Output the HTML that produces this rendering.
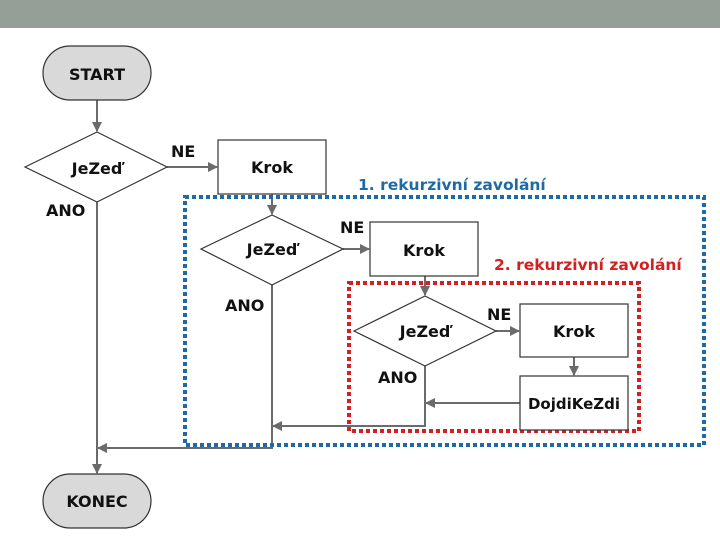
<!DOCTYPE html>
<html><head><meta charset="utf-8"><style>
body{margin:0;width:720px;height:540px;background:#fff;overflow:hidden}
text{font-family:"DejaVu Sans","Liberation Sans",sans-serif;font-weight:bold}
</style></head><body>
<svg width="720" height="540" viewBox="0 0 720 540">
<defs><marker id="a" markerWidth="10" markerHeight="10" refX="9" refY="5" orient="auto" markerUnits="userSpaceOnUse"><path d="M0,0 L10,5 L0,10 z" fill="#6b6b6b"/></marker></defs>
<rect x="0" y="0" width="720" height="28" fill="#939f97"/>
<g stroke="#6b6b6b" stroke-width="2" fill="none">
<line x1="97" y1="100" x2="97" y2="131" marker-end="url(#a)"/>
<line x1="167" y1="167" x2="217" y2="167" marker-end="url(#a)"/>
<line x1="272" y1="194" x2="272" y2="214" marker-end="url(#a)"/>
<line x1="343" y1="249" x2="369" y2="249" marker-end="url(#a)"/>
<line x1="425" y1="276" x2="425" y2="295" marker-end="url(#a)"/>
<line x1="496" y1="331" x2="519" y2="331" marker-end="url(#a)"/>
<line x1="574" y1="357" x2="574" y2="375" marker-end="url(#a)"/>
<line x1="520" y1="403" x2="426" y2="403" marker-end="url(#a)"/>
<polyline points="425,366 425,426 273,426" marker-end="url(#a)"/>
<polyline points="272,285 272,448 98,448" marker-end="url(#a)"/>
<line x1="97" y1="202" x2="97" y2="473" marker-end="url(#a)"/>
</g>
<rect x="185" y="197" width="519" height="248" fill="none" stroke="#1f6aa5" stroke-width="4" stroke-dasharray="4,3"/>
<rect x="349" y="283" width="290" height="148" fill="none" stroke="#d42020" stroke-width="4" stroke-dasharray="4,3"/>
<g stroke="#333" stroke-width="1.2">
<rect x="43" y="46" width="108" height="54" rx="27" fill="#d9d9d9"/>
<rect x="43" y="474" width="108" height="54" rx="27" fill="#d9d9d9"/>
<polygon points="25,167 97,132 167,167 97,202" fill="#fff"/>
<polygon points="201,249 272,215 343,249 272,285" fill="#fff"/>
<polygon points="354,331 425,296 496,331 425,366" fill="#fff"/>
<rect x="218" y="140" width="108" height="54" fill="#fff"/>
<rect x="370" y="222" width="108" height="54" fill="#fff"/>
<rect x="520" y="304" width="108" height="53" fill="#fff"/>
<rect x="520" y="376" width="108" height="54" fill="#fff"/>
</g>
<g font-size="16" text-anchor="middle" fill="#111">
<text x="97" y="80">START</text>
<text x="97" y="507">KONEC</text>
<text x="97" y="174">JeZeď</text>
<text x="272" y="255">JeZeď</text>
<text x="425" y="337">JeZeď</text>
<text x="272" y="173">Krok</text>
<text x="424" y="256">Krok</text>
<text x="574" y="337">Krok</text>
<text x="574" y="409" font-size="15">DojdiKeZdi</text>
</g>
<g font-size="16" fill="#111">
<text x="171" y="157">NE</text>
<text x="340" y="233">NE</text>
<text x="487" y="320">NE</text>
<text x="46" y="216">ANO</text>
<text x="225" y="311">ANO</text>
<text x="378" y="383">ANO</text>
</g>
<text x="358" y="190" font-size="15.5" fill="#1f6aa5">1. rekurzivní zavolání</text>
<text x="494" y="270" font-size="15.5" fill="#d42020">2. rekurzivní zavolání</text>
</svg>
</body></html>
